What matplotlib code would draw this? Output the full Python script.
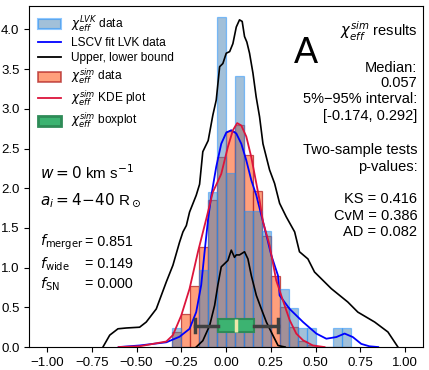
import numpy as np
import matplotlib
matplotlib.use("Agg")
import matplotlib.pyplot as plt
from matplotlib.patches import Patch
from matplotlib.lines import Line2D

plt.rcParams['font.family'] = ['Liberation Sans', 'DejaVu Sans']
plt.rcParams['mathtext.fontset'] = 'dejavusans'

# ---------------- data ----------------
bin_left = [-0.30, -0.25, -0.20, -0.15, -0.10, -0.05, 0.00, 0.05, 0.10, 0.15,
            0.20, 0.25, 0.30, 0.35, 0.40, 0.45, 0.50, 0.55, 0.60, 0.65]
bin_width = 0.05
lvk_heights = [0.245, 0.0, 0.0, 0.976, 1.95, 4.15, 2.195, 3.41, 1.71, 1.71,
               1.46, 0.0, 0.73, 0.49, 0.245, 0.245, 0.0, 0.0, 0.245, 0.245]
sim_heights = [0.19, 0.41, 0.765, 1.26, 1.85, 2.39, 2.72, 2.80, 2.42, 1.97,
               1.40, 0.90, 0.50, 0.25, 0.08, 0.03, 0.0, 0.0, 0.0, 0.0]

lscv_x = [-0.60, -0.483, -0.334, -0.26, -0.204, -0.167, -0.139, -0.12, -0.10, -0.083,
          -0.055, -0.027, 0.001, 0.029, 0.057, 0.085, 0.113, 0.141, 0.169, 0.197,
          0.225, 0.252, 0.29, 0.299, 0.355, 0.43, 0.504, 0.56, 0.616, 0.662,
          0.708, 0.755, 0.80, 0.85]
lscv_y = [0.0, 0.02, 0.06, 0.13, 0.23, 0.44, 0.78, 1.20, 1.62, 1.90,
          2.27, 2.56, 2.70, 2.73, 2.69, 2.56, 2.35, 2.10, 1.91, 1.66,
          1.41, 1.16, 0.90, 0.65, 0.48, 0.315, 0.17, 0.105, 0.126, 0.17,
          0.126, 0.04, 0.01, 0.0]

kde_x = [-0.60, -0.483, -0.334, -0.297, -0.25, -0.204, -0.157, -0.11, -0.074, -0.027,
         0.01, 0.038, 0.062, 0.085, 0.113, 0.141, 0.169, 0.187, 0.206, 0.243,
         0.28, 0.317, 0.355, 0.392, 0.43, 0.485, 0.55]
kde_y = [0.0, 0.01, 0.07, 0.15, 0.40, 0.735, 1.20, 1.62, 1.95, 2.18,
         2.52, 2.73, 2.82, 2.79, 2.65, 2.39, 2.06, 1.85, 1.58, 1.28,
         0.84, 0.59, 0.34, 0.17, 0.085, 0.02, 0.0]

upper_x = [-0.688, -0.65, -0.604, -0.558, -0.483, -0.446, -0.39, -0.334, -0.297, -0.26,
           -0.241, -0.222, -0.204, -0.167, -0.148, -0.13, -0.10, -0.074, -0.055, -0.036,
           -0.018, 0.001, 0.02, 0.038, 0.057, 0.075, 0.09, 0.103, 0.116, 0.131,
           0.15, 0.168, 0.187, 0.206, 0.243, 0.271, 0.299, 0.336, 0.383, 0.41,
           0.457, 0.494, 0.588, 0.68, 0.736, 0.83, 0.904, 0.96]
upper_y = [0.0, 0.15, 0.23, 0.24, 0.25, 0.315, 0.48, 0.82, 1.03, 1.32,
           1.45, 1.53, 1.70, 1.91, 2.05, 2.46, 2.60, 2.92, 3.11, 3.53,
           3.57, 3.70, 3.72, 3.82, 4.03, 4.12, 4.10, 3.91, 3.84, 3.70,
           3.45, 3.15, 2.90, 2.56, 2.23, 2.06, 1.81, 1.64, 1.45, 1.20,
           1.11, 0.945, 0.735, 0.567, 0.44, 0.315, 0.19, 0.0]

lower_x = [-0.167, -0.13, -0.092, -0.064, -0.046, -0.027, 0.01, 0.029, 0.047, 0.057,
           0.075, 0.103, 0.122, 0.141, 0.169, 0.197, 0.225, 0.261, 0.29, 0.33]
lower_y = [0.0, 0.08, 0.27, 0.525, 0.78, 1.01, 1.09, 1.22, 1.13, 1.16,
           1.16, 1.20, 1.11, 0.90, 0.65, 0.48, 0.315, 0.15, 0.02, 0.0]

box_stats = dict(whislo=-0.174, q1=-0.046, med=0.057, q3=0.155, whishi=0.292)
box_pos = 0.27

xticks = [-1.00, -0.75, -0.50, -0.25, 0.00, 0.25, 0.50, 0.75, 1.00]
yticks = [0.0, 0.5, 1.0, 1.5, 2.0, 2.5, 3.0, 3.5, 4.0]

right_lines = [r'$\chi_{eff}^{sim}$ results', 'Median:', '0.057',
               '5%\u221295% interval:', '[-0.174, 0.292]',
               'Two-sample tests', 'p-values:',
               'KS = 0.416', 'CvM = 0.386', 'AD = 0.082']
right_ypos = [0.924, 0.817, 0.773, 0.726, 0.677, 0.577, 0.528, 0.434, 0.385, 0.338]

frac_labels = [r'$f_{\rm merger}$', r'$f_{\rm wide}$', r'$f_{\rm SN}$']
frac_values = ['0.851', '0.149', '0.000']
frac_ypos = [0.308, 0.243, 0.185]

# ---------------- plot ----------------
fig = plt.figure(figsize=(4.29, 3.70), dpi=100)
ax = fig.add_axes([0.068, 0.062, 0.918, 0.923])

ax.bar(bin_left, sim_heights, width=bin_width, align='edge',
       facecolor='coral', edgecolor='firebrick', alpha=0.75,
       linewidth=0.9, zorder=1)
ax.bar(bin_left, lvk_heights, width=bin_width, align='edge',
       facecolor='steelblue', edgecolor='dodgerblue', alpha=0.5,
       linewidth=0.9, zorder=2)

ax.plot(upper_x, upper_y, color='black', lw=1.2, zorder=3)
ax.plot(lower_x, lower_y, color='black', lw=1.2, zorder=3)
ax.plot(lscv_x, lscv_y, color='blue', lw=1.3, zorder=4)
ax.plot(kde_x, kde_y, color='crimson', lw=1.3, zorder=4)

st = dict(box_stats)
st['fliers'] = []
bp = ax.bxp([st], positions=[box_pos], widths=0.17, vert=False,
            patch_artist=True, showfliers=False, capwidths=[0.17],
            boxprops=dict(facecolor='mediumseagreen', edgecolor='seagreen', linewidth=1.5),
            medianprops=dict(color='palegoldenrod', linewidth=2.5),
            whiskerprops=dict(color='#404040', linewidth=2.5),
            capprops=dict(color='#404040', linewidth=2.5),
            manage_ticks=False, zorder=5)
for k in bp:
    for a in bp[k]:
        a.set_zorder(5)

ax.set_xlim(-1.1, 1.1)
ax.set_ylim(0, 4.3)
ax.set_xticks(xticks)
ax.set_xticklabels([f"{t:.2f}".replace('-', '\u2212') for t in xticks])
ax.set_yticks(yticks)
ax.set_yticklabels([f"{t:.1f}" for t in yticks])
ax.tick_params(labelsize=9.5, length=3.5)

handles = [
    Patch(facecolor='steelblue', edgecolor='dodgerblue', alpha=0.5, lw=1.5),
    Line2D([], [], color='blue', lw=1.3),
    Line2D([], [], color='black', lw=1.3),
    Patch(facecolor='coral', edgecolor='firebrick', alpha=0.75, lw=1.2),
    Line2D([], [], color='crimson', lw=1.3),
    Patch(facecolor='mediumseagreen', edgecolor='seagreen', lw=2),
]
labels = [r'$\chi_{eff}^{LVK}$ data', 'LSCV fit LVK data', 'Upper, lower bound',
          r'$\chi_{eff}^{sim}$ data', r'$\chi_{eff}^{sim}$ KDE plot',
          r'$\chi_{eff}^{sim}$ boxplot']
ax.legend(handles, labels, loc='upper left', frameon=False, fontsize=8.6,
          handlelength=1.95, handleheight=0.9, labelspacing=0.22,
          borderaxespad=0.35, handletextpad=0.8)

ax.text(0.704, 0.861, 'A', transform=ax.transAxes, fontsize=26,
        ha='center', va='center')
for txt, yy in zip(right_lines, right_ypos):
    ax.text(0.986, yy, txt, transform=ax.transAxes, fontsize=10.5,
            ha='right', va='center')

ax.text(0.027, 0.51, r'$w = 0$ km s$^{-1}$', transform=ax.transAxes,
        fontsize=11, ha='left', va='center')
ax.text(0.027, 0.43, r'$a_i = 4\!-\!40$ R$_\odot$', transform=ax.transAxes,
        fontsize=11, ha='left', va='center')
for lab, val, yy in zip(frac_labels, frac_values, frac_ypos):
    ax.text(0.027, yy, lab, transform=ax.transAxes, fontsize=10.3,
            ha='left', va='center')
    ax.text(0.142, yy, '= ' + val, transform=ax.transAxes, fontsize=10.3,
            ha='left', va='center')

fig.savefig('out.png', dpi=100)
